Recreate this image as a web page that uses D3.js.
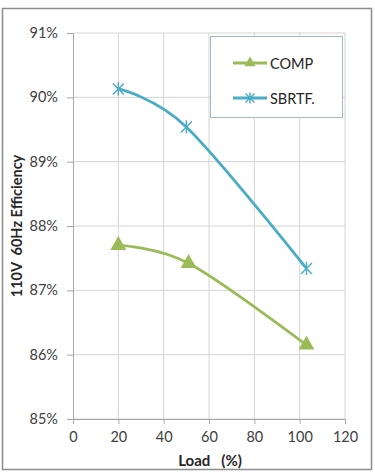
<!DOCTYPE html>
<html><head><meta charset="utf-8">
<script src="https://cdn.jsdelivr.net/npm/d3@7"></script>
<style>html,body{margin:0;padding:0;background:#fff;}svg{display:block;}</style>
</head><body>
<svg id="c" width="375" height="472"></svg>
<script>
const compLoad = [20, 51, 103];
const compEff = [87.70, 87.42, 86.15];
const sbrtfLoad = [20, 50, 103];
const sbrtfEff = [90.13, 89.54, 87.34];
const xTicks = [0, 20, 40, 60, 80, 100, 120];
const yTicks = [85, 86, 87, 88, 89, 90, 91];
const seriesNames = ["COMP", "SBRTF."];

const svg = d3.select("#c");
const font = "Lato, 'Open Sans', sans-serif";
svg.append("rect").attr("x", 2.5).attr("y", 8.5).attr("width", 369).attr("height", 461)
  .attr("fill", "#fff").attr("stroke", "#8c8c8c").attr("stroke-width", 1.5);

const x = d3.scaleLinear().domain([0, 120]).range([73, 345]);
const y = d3.scaleLinear().domain([85, 91]).range([419, 33]);

const g = svg.append("g");
g.selectAll(".hg").data(yTicks).join("line")
  .attr("x1", x(0)).attr("x2", x(120)).attr("y1", d => y(d)).attr("y2", d => y(d))
  .attr("stroke", "#d4d4d4").attr("stroke-width", 1);
g.selectAll(".vg").data(xTicks.filter(d => d > 0)).join("line")
  .attr("y1", y(85)).attr("y2", y(91)).attr("x1", d => x(d)).attr("x2", d => x(d))
  .attr("stroke", "#d4d4d4").attr("stroke-width", 1);

const yAxis = d3.axisLeft(y).tickValues(yTicks).tickFormat(d => d + "%").tickSize(6).tickPadding(9);
const ya = svg.append("g").attr("transform", `translate(${x(0)},0)`).call(yAxis);
const xAxis = d3.axisBottom(x).tickValues(xTicks).tickSize(5).tickPadding(8);
const xa = svg.append("g").attr("transform", `translate(0,${y(85)})`).call(xAxis);
[ya, xa].forEach(a => {
  a.select(".domain").attr("stroke", "#a6a6a6");
  a.selectAll(".tick line").attr("stroke", "#a6a6a6");
  a.selectAll("text").attr("font-family", font).attr("font-size", 14.5).attr("fill", "#404040");
});
xa.selectAll(".tick").filter(d => d === 0).select("line").remove();

const line = d3.line().x(d => x(d[0])).y(d => y(d[1])).curve(d3.curveCardinal.tension(0));
const compData = compLoad.map((v, i) => [v, compEff[i]]);
const sbData = sbrtfLoad.map((v, i) => [v, sbrtfEff[i]]);
const green = "#9bbb59", blue = "#4bacc6";
svg.append("path").attr("d", line(compData)).attr("fill", "none").attr("stroke", green).attr("stroke-width", 2.8);
svg.append("path").attr("d", line(sbData)).attr("fill", "none").attr("stroke", blue).attr("stroke-width", 2.8);

const tri = d3.symbol().type(d3.symbolTriangle).size(110);
svg.selectAll(".tri").data(compData).join("path")
  .attr("d", tri).attr("transform", d => `translate(${x(d[0])},${y(d[1])})`).attr("fill", green);
function star(sel, s) {
  sel.append("path").attr("d", `M${-s},${-s}L${s},${s}M${-s},${s}L${s},${-s}M0,${-s * 1.2}L0,${s * 1.2}`)
    .attr("stroke", blue).attr("stroke-width", 1.4).attr("fill", "none");
}
svg.selectAll(".st").data(sbData).join("g")
  .attr("transform", d => `translate(${x(d[0])},${y(d[1])})`).each(function () { star(d3.select(this), 5.5); });

svg.append("rect").attr("x", 210.5).attr("y", 36.5).attr("width", 132).attr("height", 81)
  .attr("fill", "#fff").attr("stroke", "#a7b6c8").attr("stroke-width", 1);
const ly = [63, 98];
svg.append("line").attr("x1", 233).attr("x2", 267).attr("y1", ly[0]).attr("y2", ly[0]).attr("stroke", green).attr("stroke-width", 2.8);
svg.append("path").attr("d", d3.symbol().type(d3.symbolTriangle).size(55)).attr("transform", `translate(250,${ly[0]})`).attr("fill", green);
svg.append("line").attr("x1", 233).attr("x2", 267).attr("y1", ly[1]).attr("y2", ly[1]).attr("stroke", blue).attr("stroke-width", 2.8);
svg.append("g").attr("transform", `translate(250,${ly[1]})`).call(s => star(s, 4.5));
svg.selectAll(".lt").data(seriesNames).join("text")
  .attr("x", 270).attr("y", (d, i) => ly[i] + 5.5).text(d => d)
  .attr("font-family", font).attr("font-size", 14.5).attr("fill", "#262626");

svg.append("text").attr("transform", `translate(22,${(y(85) + y(91)) / 2}) rotate(-90)`)
  .attr("text-anchor", "middle").attr("font-family", font).attr("font-weight", "bold")
  .attr("font-size", 14.5).attr("fill", "#262626").attr("xml:space", "preserve").text("110V  60Hz Efficiency");
svg.append("text").attr("x", 210).attr("y", 466).attr("text-anchor", "middle")
  .attr("font-family", font).attr("font-weight", "bold").attr("font-size", 15).attr("fill", "#262626")
  .attr("xml:space", "preserve").text("Load   (%)");
</script>
</body></html>
